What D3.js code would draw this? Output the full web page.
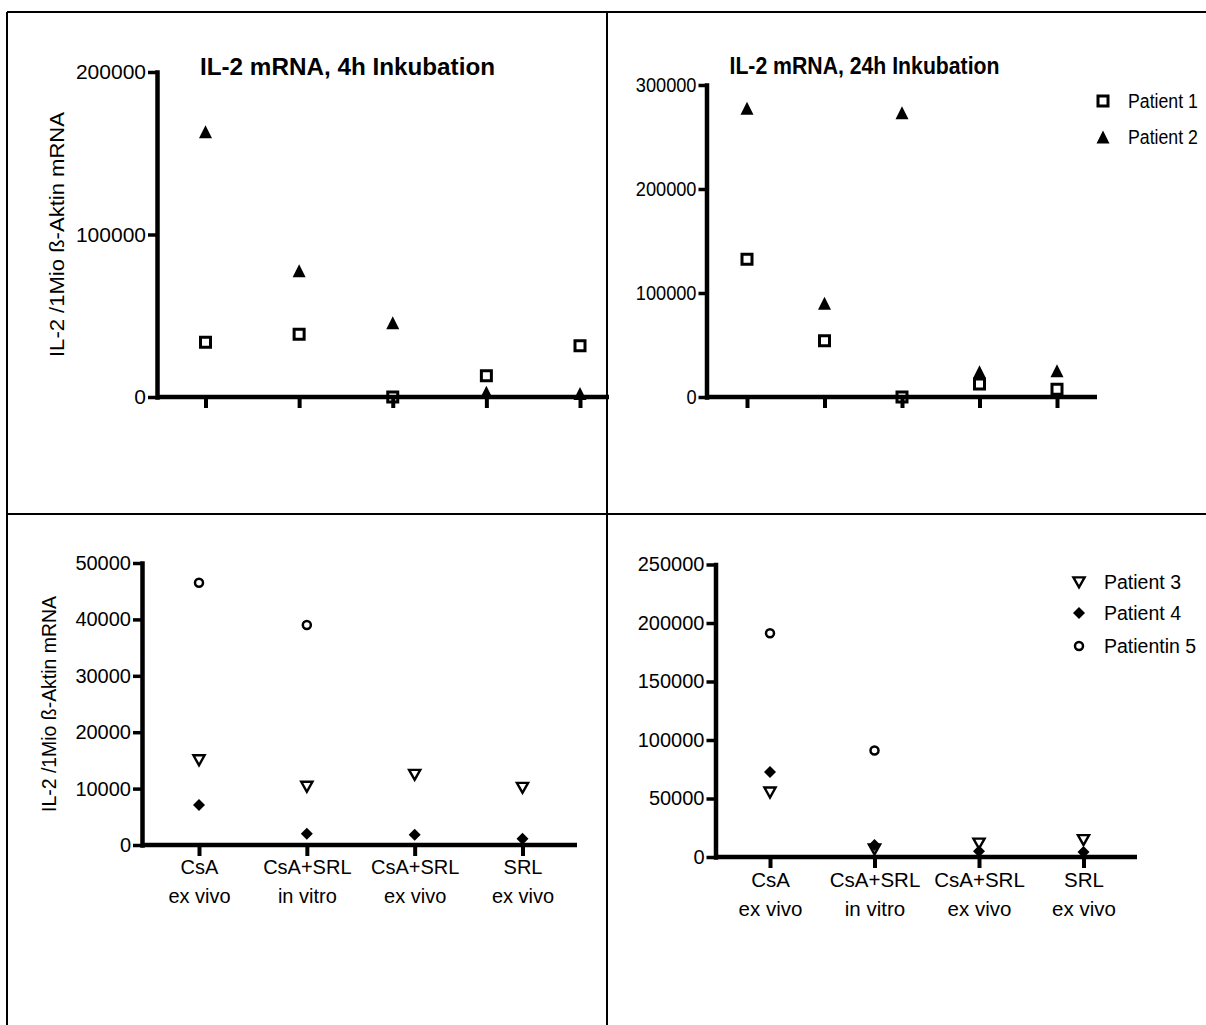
<!DOCTYPE html>
<html>
<head>
<meta charset="utf-8">
<script src="https://cdn.jsdelivr.net/npm/d3@7"></script>
<style>
  html, body { margin: 0; padding: 0; background: #fff; }
  svg { display: block; }
</style>
</head>
<body>
<svg id="chart" width="1206" height="1025"></svg>
<script>
// ---------------- DATA ----------------
// Top panels: five conditions, unlabeled in the original figure
const topCategories = ["K1", "K2", "K3", "K4", "K5"];
// Bottom panels: four conditions (line break marks the second label line)
const bottomCategories = ["CsA\nex vivo", "CsA+SRL\nin vitro", "CsA+SRL\nex vivo", "SRL\nex vivo"];

const title4h = "IL-2 mRNA, 4h Inkubation";
const title24h = "IL-2 mRNA, 24h Inkubation";
const yAxisTitle = "IL-2 /1Mio ß-Aktin mRNA";

// IL-2 mRNA, 4h incubation
const il2_4h_patient1 = [33700, 38600, 0, 13100, 31600];
const il2_4h_patient2 = [163300, 77700, 45700, 3000, 2200];
// IL-2 mRNA, 24h incubation
const il2_24h_patient1 = [132400, 54100, 0, 12500, 7400];
const il2_24h_patient2 = [277600, 90100, 273400, 24300, 25300];
// Bottom left
const bl_patient3 = [15100, 10400, 12500, 10200];
const bl_patient4 = [7100, 2000, 1800, 1100];
const bl_patient5 = [46500, 39000, null, null];
// Bottom right
const br_patient3 = [55500, 6800, 11800, 14800];
const br_patient4 = [72700, 10300, 5000, 4300];
const br_patient5 = [191200, 91100, null, null];

const ticks4h = [0, 100000, 200000];
const ticks24h = [0, 100000, 200000, 300000];
const ticksBL = [0, 10000, 20000, 30000, 40000, 50000];
const ticksBR = [0, 50000, 100000, 150000, 200000, 250000];

const legendTop = ["Patient 1", "Patient 2"];
const legendBottom = ["Patient 3", "Patient 4", "Patientin 5"];

// ---------------- STYLE / LAYOUT ----------------
const FONT = "'Liberation Sans', Arial, Helvetica, sans-serif";
const svg = d3.select("#chart");

// marker shapes (centered at 0,0)
const markers = {
  square:   { d: "M-5,-5H5V5H-5Z", fill: "none", stroke: "#000", sw: 3 },
  triUp:    { d: "M0,-6.5L6.5,6.5L-6.5,6.5Z", fill: "#000", stroke: "none", sw: 0 },
  triDown:  { d: "M-5.6,-4.6L5.6,-4.6L0,5.4Z", fill: "none", stroke: "#000", sw: 2.4 },
  diamond:  { d: "M0,-6L6,0L0,6L-6,0Z", fill: "#000", stroke: "none", sw: 0 },
  circle:   { d: "M4,0A4,4 0 1,1 -4,0A4,4 0 1,1 4,0Z", fill: "none", stroke: "#000", sw: 2.5 }
};

function drawMarker(g, type, tx, ty) {
  const m = markers[type];
  g.append("path").attr("d", m.d)
    .attr("transform", `translate(${tx},${ty})`)
    .attr("fill", m.fill).attr("stroke", m.stroke).attr("stroke-width", m.sw);
}

function condense(sel, f) {
  sel.each(function () {
    const t = d3.select(this);
    const len = this.getComputedTextLength();
    if (len > 0) t.attr("textLength", len * f).attr("lengthAdjust", "spacingAndGlyphs");
  });
}

// frame lines
const frame = svg.append("g").attr("stroke", "#000").attr("stroke-width", 2);
frame.append("line").attr("x1", 7).attr("y1", 12).attr("x2", 1206).attr("y2", 12);
frame.append("line").attr("x1", 7).attr("y1", 12).attr("x2", 7).attr("y2", 1025);
frame.append("line").attr("x1", 607).attr("y1", 12).attr("x2", 607).attr("y2", 1025);
frame.append("line").attr("x1", 7).attr("y1", 514).attr("x2", 1206).attr("y2", 514);

function drawPanel(p) {
  const g = svg.append("g");
  const y = d3.scaleLinear().domain([0, p.yMax]).range([p.y0, p.yTop]);
  const x = d3.scalePoint().domain(p.cats).range([p.cx0, p.cx1]);

  // x axis ticks
  const gx = g.append("g").attr("transform", `translate(0,${p.y0})`)
    .call(d3.axisBottom(x).tickSize(11).tickSizeOuter(0).tickFormat(""));
  gx.select(".domain").remove();
  gx.selectAll(".tick line").attr("stroke", "#000").attr("stroke-width", 4);
  gx.selectAll(".tick text").remove();
  if (p.showLabels) {
    gx.selectAll(".tick").each(function (d) {
      const lines = d.split("\n");
      const t = d3.select(this).append("text")
        .attr("text-anchor", "middle").attr("fill", "#000")
        .attr("font-family", FONT).attr("font-size", p.catFont);
      lines.forEach((ln, i) => {
        t.append("tspan").attr("x", 0).attr("y", p.labelY[i]).text(ln);
      });
    });
  }
  // x axis line
  g.append("line").attr("x1", p.axisX).attr("x2", p.xEnd)
    .attr("y1", p.y0).attr("y2", p.y0)
    .attr("stroke", "#000").attr("stroke-width", 4.5);

  // y axis
  const gy = g.append("g").attr("transform", `translate(${p.axisX},0)`)
    .call(d3.axisLeft(y).tickValues(p.ticks).tickSize(p.yTick).tickPadding(2)
      .tickSizeOuter(0).tickFormat(d3.format("d")));
  gy.attr("font-family", FONT).attr("font-size", p.tickFont);
  gy.select(".domain").attr("stroke", "#000").attr("stroke-width", 4.5)
    .attr("stroke-linecap", "square");
  gy.selectAll(".tick line").attr("stroke", "#000").attr("stroke-width", 3.5);
  gy.selectAll(".tick text").attr("fill", "#000");
  if (p.condense) condense(gy.selectAll(".tick text"), p.condense);

  // title
  if (p.title) {
    g.append("text").attr("x", p.titleX).attr("y", p.titleY)
      .attr("font-family", FONT).attr("font-weight", "bold").attr("font-size", 23)
      .attr("textLength", p.titleLen).attr("lengthAdjust", "spacingAndGlyphs")
      .attr("fill", "#000").text(p.title);
  }
  // y axis title
  if (p.yTitle) {
    g.append("text")
      .attr("transform", `translate(${p.yTitleX},${(p.y0 + p.yTop) / 2}) rotate(-90)`)
      .attr("text-anchor", "middle").attr("font-family", FONT)
      .attr("font-size", p.yTitleFont)
      .attr("textLength", p.yTitleLen).attr("lengthAdjust", "spacingAndGlyphs")
      .attr("fill", "#000").text(p.yTitle);
  }

  // series
  const mg = g.append("g");
  p.series.forEach(s => {
    s.values.forEach((v, i) => {
      if (v === null || v === undefined) return;
      drawMarker(mg, s.marker, x(p.cats[i]), y(v));
    });
  });

  // legend
  if (p.legend) {
    const lg = g.append("g");
    p.series.forEach((s, i) => {
      const ly = p.legend.ys[i];
      drawMarker(lg, s.marker, p.legend.mx, ly);
      const t = lg.append("text").attr("x", p.legend.tx).attr("y", ly)
        .attr("dy", "0.35em").attr("font-family", FONT)
        .attr("font-size", p.legend.font).attr("fill", "#000").text(s.name);
      if (p.legend.condense) condense(t, p.legend.condense);
    });
  }
}

// Top-left: 4h
drawPanel({
  cats: topCategories, yMax: 200000, ticks: ticks4h,
  axisX: 157, y0: 397, yTop: 72, xEnd: 609, cx0: 205.5, cx1: 580,
  yTick: 9, tickFont: 21, showLabels: false,
  title: title4h, titleX: 200, titleY: 75, titleLen: 295,
  yTitle: yAxisTitle, yTitleX: 64, yTitleFont: 21, yTitleLen: 245,
  series: [
    { name: legendTop[0], values: il2_4h_patient1, marker: "square" },
    { name: legendTop[1], values: il2_4h_patient2, marker: "triUp" }
  ]
});

// Top-right: 24h
drawPanel({
  cats: topCategories, yMax: 300000, ticks: ticks24h,
  axisX: 706.5, y0: 397, yTop: 85, xEnd: 1097, cx0: 747, cx1: 1057,
  yTick: 8, tickFont: 20, condense: 0.91, showLabels: false,
  title: title24h, titleX: 729.5, titleY: 74, titleLen: 270,
  series: [
    { name: legendTop[0], values: il2_24h_patient1, marker: "square" },
    { name: legendTop[1], values: il2_24h_patient2, marker: "triUp" }
  ],
  legend: { mx: 1103, tx: 1128, ys: [101, 137], font: 20, condense: 0.885 }
});

// Bottom-left
drawPanel({
  cats: bottomCategories, yMax: 50000, ticks: ticksBL,
  axisX: 142, y0: 845, yTop: 563, xEnd: 577, cx0: 199, cx1: 522.5,
  yTick: 9, tickFont: 20, showLabels: true, catFont: 20, labelY: [29, 58],
  yTitle: yAxisTitle, yTitleX: 56, yTitleFont: 19.5, yTitleLen: 216,
  series: [
    { name: legendBottom[0], values: bl_patient3, marker: "triDown" },
    { name: legendBottom[1], values: bl_patient4, marker: "diamond" },
    { name: legendBottom[2], values: bl_patient5, marker: "circle" }
  ]
});

// Bottom-right
drawPanel({
  cats: bottomCategories, yMax: 250000, ticks: ticksBR,
  axisX: 715.5, y0: 857, yTop: 564.5, xEnd: 1137, cx0: 770, cx1: 1083.5,
  yTick: 9, tickFont: 20, showLabels: true, catFont: 20.5, labelY: [30, 59],
  series: [
    { name: legendBottom[0], values: br_patient3, marker: "triDown" },
    { name: legendBottom[1], values: br_patient4, marker: "diamond" },
    { name: legendBottom[2], values: br_patient5, marker: "circle" }
  ],
  legend: { mx: 1079, tx: 1104, ys: [582, 613, 646], font: 19.5 }
});
</script>
</body>
</html>
